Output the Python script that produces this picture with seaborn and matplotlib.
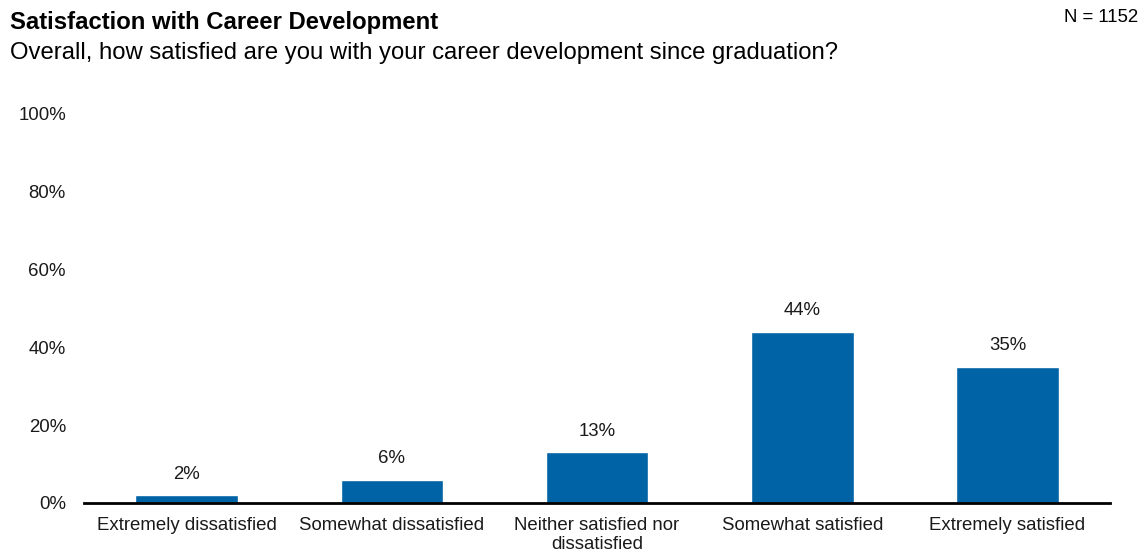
import matplotlib
matplotlib.use("Agg")
import matplotlib.pyplot as plt
import seaborn as sns
import pandas as pd

categories = ["Extremely dissatisfied", "Somewhat dissatisfied",
              "Neither satisfied nor\ndissatisfied", "Somewhat satisfied",
              "Extremely satisfied"]
values = [2, 6, 13, 44, 35]
ytick_values = [0, 20, 40, 60, 80, 100]
ytick_labels = ["0%", "20%", "40%", "60%", "80%", "100%"]

sns.set_theme(style="white")
plt.rcParams["font.family"] = ["Liberation Sans", "DejaVu Sans"]

df = pd.DataFrame({"category": categories, "value": values})

fig = plt.figure(figsize=(11.42, 5.55), dpi=100)
ax = fig.add_axes([0.0736, 0.0937, 0.8984, 0.7009])

sns.barplot(data=df, x="category", y="value", color="#0063A6", saturation=1,
            width=0.5, ax=ax)

ax.set_xlim(-0.5, len(categories) - 0.5)
ax.set_ylim(0, 100)
ax.set_yticks(ytick_values)
ax.set_yticklabels(ytick_labels, fontsize=13.4, color="#1a1a1a")
ax.tick_params(axis="x", labelsize=13.4, colors="#1a1a1a", length=0, pad=10)
ax.tick_params(axis="y", length=0, pad=13)
for lbl in ax.get_xticklabels():
    lbl.set_linespacing(1.15)
ax.set_xlabel("")
ax.set_ylabel("")

for side in ["top", "right", "left"]:
    ax.spines[side].set_visible(False)
ax.spines["bottom"].set_color("black")
ax.spines["bottom"].set_linewidth(2)

for i, v in enumerate(values):
    ax.annotate(f"{v}%", (i, v), xytext=(0, 9), textcoords="offset points",
                ha="center", va="bottom", fontsize=13.4, color="#1a1a1a")

fig.text(10 / 1142, 1 - 22 / 555, "Satisfaction with Career Development",
         fontsize=17.2, fontweight="bold", ha="left", va="center", color="black")
fig.text(10 / 1142, 1 - 53 / 555,
         "Overall, how satisfied are you with your career development since graduation?",
         fontsize=17.2, ha="left", va="center", color="black")
fig.text(1138 / 1142, 1 - 17 / 555, "N = 1152", fontsize=13.4, ha="right",
         va="center", color="black")

fig.savefig("out.png", dpi=100, facecolor="white")
